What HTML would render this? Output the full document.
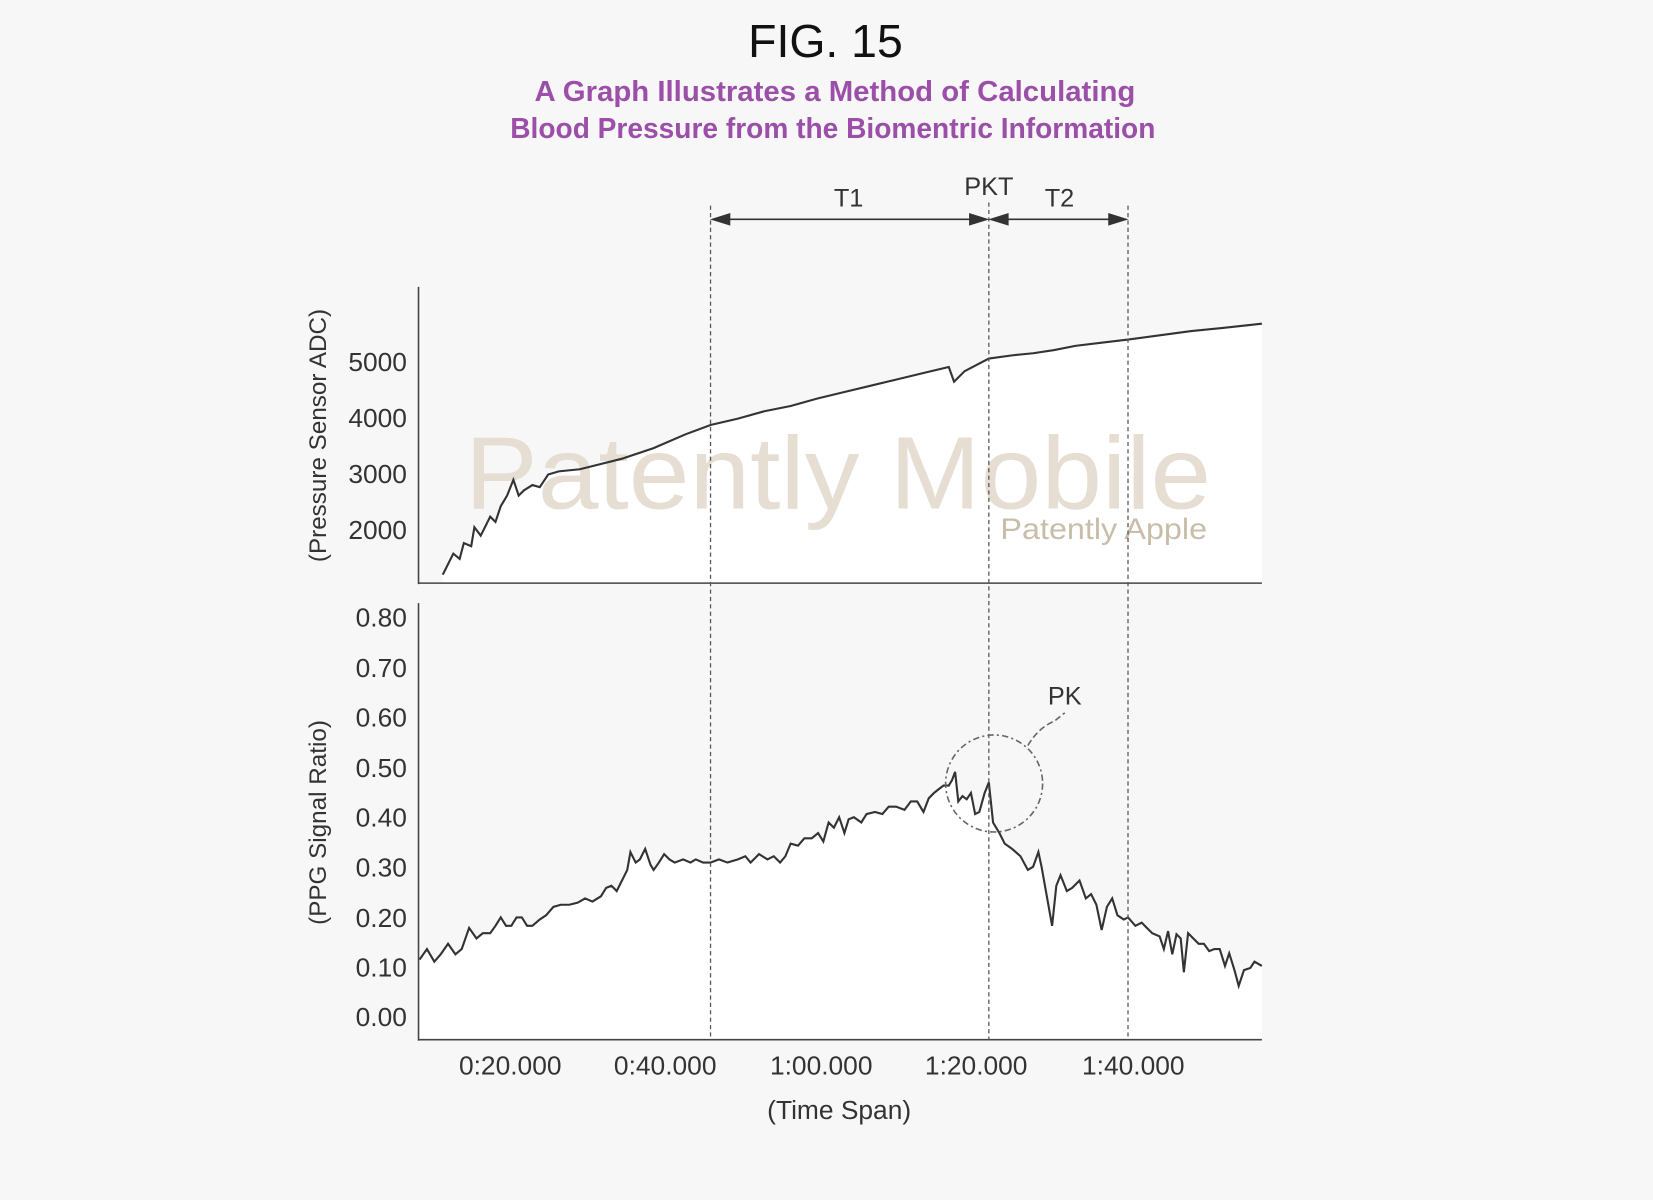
<!DOCTYPE html>
<html><head><meta charset="utf-8"><style>
html,body{margin:0;padding:0;background:#f7f7f7}
svg{display:block}
text{font-family:"Liberation Sans",sans-serif}
</style></head><body>
<svg width="1653" height="1200" viewBox="0 0 1568 1138" preserveAspectRatio="none" xmlns="http://www.w3.org/2000/svg">
<rect width="1568" height="1138" fill="#f7f7f7"/>
<text x="783" y="54" font-size="44" text-anchor="middle" fill="#111">FIG. 15</text>
<text x="792" y="96" font-size="27" font-weight="bold" text-anchor="middle" fill="#9b4fa8" textLength="570" lengthAdjust="spacingAndGlyphs">A Graph Illustrates a Method of Calculating</text>
<text x="790" y="131" font-size="27" font-weight="bold" text-anchor="middle" fill="#9b4fa8" textLength="612" lengthAdjust="spacingAndGlyphs">Blood Pressure from the Biomentric Information</text>

<polygon fill="#ffffff" points="420,553 420,545 430,525 436,530 440,515 447,518 450,500 456,508 460,500 465,490 470,495 475,480 481,470 487,455 492,470 497,465 505,460 512,462 520,450 530,447 550,445 570,440 590,435 620,425 650,412 674,403 700,397 725,390 750,385 775,378 800,372 825,366 850,360 875,354 900,348 905,362 915,352 938,340 960,337 980,335 1000,332 1020,328 1045,325 1070,322 1100,318 1130,314 1160,311 1197,307 1197,553"/>
<polygon fill="#ffffff" points="398,986 398,910 405,900 412,912 418,905 425,895 432,905 438,900 445,880 452,890 458,885 465,885 470,878 475,870 480,878 485,878 490,870 495,870 500,878 505,878 512,872 518,868 525,860 532,858 540,858 548,856 555,852 562,855 570,850 575,842 580,840 585,845 590,835 595,825 598,808 603,818 607,815 612,805 617,820 620,825 625,818 630,810 635,815 640,818 648,815 655,818 660,815 667,818 674,818 682,815 690,818 700,815 707,812 712,818 720,810 728,815 734,812 740,818 745,812 750,800 757,802 763,795 770,795 776,790 781,798 786,780 791,785 796,775 801,790 805,777 810,775 817,780 822,772 830,770 837,772 843,765 850,765 858,768 864,760 870,760 876,770 881,757 886,752 891,748 895,745 900,745 903,740 906,732 909,760 913,755 917,758 921,752 925,772 929,770 934,752 938,742 942,780 948,790 953,800 960,805 968,812 975,825 980,822 985,808 988,822 993,850 998,878 1002,840 1006,830 1012,845 1017,842 1024,835 1030,852 1035,848 1040,858 1045,882 1050,860 1055,852 1060,868 1066,872 1070,870 1077,878 1083,875 1088,880 1093,885 1100,888 1104,900 1108,883 1112,905 1116,886 1120,890 1123,922 1127,885 1132,890 1137,895 1142,895 1147,902 1152,900 1157,900 1162,916 1166,904 1171,920 1175,935 1180,920 1186,918 1190,912 1197,916 1197,986"/>

<text x="795" y="482" font-size="98" text-anchor="middle" fill="#e6ddd3" textLength="708" lengthAdjust="spacingAndGlyphs">Patently Mobile</text>
<text x="1047" y="511" font-size="28" text-anchor="middle" fill="#c8bda9" textLength="196" lengthAdjust="spacingAndGlyphs">Patently Apple</text>

<polyline fill="none" stroke="#333" stroke-width="2" points="420,545 430,525 436,530 440,515 447,518 450,500 456,508 460,500 465,490 470,495 475,480 481,470 487,455 492,470 497,465 505,460 512,462 520,450 530,447 550,445 570,440 590,435 620,425 650,412 674,403 700,397 725,390 750,385 775,378 800,372 825,366 850,360 875,354 900,348 905,362 915,352 938,340 960,337 980,335 1000,332 1020,328 1045,325 1070,322 1100,318 1130,314 1160,311 1197,307"/>
<polyline fill="none" stroke="#333" stroke-width="2" points="398,910 405,900 412,912 418,905 425,895 432,905 438,900 445,880 452,890 458,885 465,885 470,878 475,870 480,878 485,878 490,870 495,870 500,878 505,878 512,872 518,868 525,860 532,858 540,858 548,856 555,852 562,855 570,850 575,842 580,840 585,845 590,835 595,825 598,808 603,818 607,815 612,805 617,820 620,825 625,818 630,810 635,815 640,818 648,815 655,818 660,815 667,818 674,818 682,815 690,818 700,815 707,812 712,818 720,810 728,815 734,812 740,818 745,812 750,800 757,802 763,795 770,795 776,790 781,798 786,780 791,785 796,775 801,790 805,777 810,775 817,780 822,772 830,770 837,772 843,765 850,765 858,768 864,760 870,760 876,770 881,757 886,752 891,748 895,745 900,745 903,740 906,732 909,760 913,755 917,758 921,752 925,772 929,770 934,752 938,742 942,780 948,790 953,800 960,805 968,812 975,825 980,822 985,808 988,822 993,850 998,878 1002,840 1006,830 1012,845 1017,842 1024,835 1030,852 1035,848 1040,858 1045,882 1050,860 1055,852 1060,868 1066,872 1070,870 1077,878 1083,875 1088,880 1093,885 1100,888 1104,900 1108,883 1112,905 1116,886 1120,890 1123,922 1127,885 1132,890 1137,895 1142,895 1147,902 1152,900 1157,900 1162,916 1166,904 1171,920 1175,935 1180,920 1186,918 1190,912 1197,916"/>

<g stroke="#444" stroke-width="1.5">
<line x1="397" y1="272" x2="397" y2="554"/>
<line x1="397" y1="553" x2="1197" y2="553"/>
<line x1="397" y1="572" x2="397" y2="987"/>
<line x1="397" y1="986" x2="1197" y2="986"/>
</g>
<g stroke="#555" stroke-width="1.2" stroke-dasharray="4,3">
<line x1="674" y1="195" x2="674" y2="986"/>
<line x1="938" y1="192" x2="938" y2="986"/>
<line x1="1070" y1="195" x2="1070" y2="986"/>
</g>
<g stroke="#333" stroke-width="1.5" fill="#333">
<line x1="676" y1="208" x2="936" y2="208"/>
<line x1="940" y1="208" x2="1068" y2="208"/>
<polygon points="676,208 692,203 692,213"/>
<polygon points="936,208 920,203 920,213"/>
<polygon points="940,208 956,203 956,213"/>
<polygon points="1068,208 1052,203 1052,213"/>
</g>
<g font-size="24" fill="#333" text-anchor="middle">
<text x="805" y="196">T1</text>
<text x="938" y="185">PKT</text>
<text x="1005" y="196">T2</text>
<text x="1010" y="668">PK</text>
</g>
<circle cx="943" cy="743" r="46" fill="none" stroke="#666" stroke-width="1.5" stroke-dasharray="6,3,2,3"/>
<path d="M975,707 Q985,690 1000,684 L1010,676" fill="none" stroke="#666" stroke-width="1.5" stroke-dasharray="6,3"/>

<g font-size="25" fill="#333" text-anchor="end">
<text x="386" y="352">5000</text>
<text x="386" y="405">4000</text>
<text x="386" y="458">3000</text>
<text x="386" y="511">2000</text>
<text x="386" y="594">0.80</text>
<text x="386" y="642">0.70</text>
<text x="386" y="689">0.60</text>
<text x="386" y="737">0.50</text>
<text x="386" y="784">0.40</text>
<text x="386" y="831">0.30</text>
<text x="386" y="879">0.20</text>
<text x="386" y="926">0.10</text>
<text x="386" y="973">0.00</text>
</g>
<g font-size="25" fill="#333" text-anchor="middle">
<text x="484" y="1019">0:20.000</text>
<text x="631" y="1019">0:40.000</text>
<text x="779" y="1019">1:00.000</text>
<text x="926" y="1019">1:20.000</text>
<text x="1075" y="1019">1:40.000</text>
<text x="796" y="1061">(Time Span)</text>
</g>
<text transform="translate(309,413) rotate(-90)" font-size="23" fill="#333" text-anchor="middle">(Pressure Sensor ADC)</text>
<text transform="translate(309,780) rotate(-90)" font-size="23" fill="#333" text-anchor="middle">(PPG Signal Ratio)</text>
</svg>
</body></html>
